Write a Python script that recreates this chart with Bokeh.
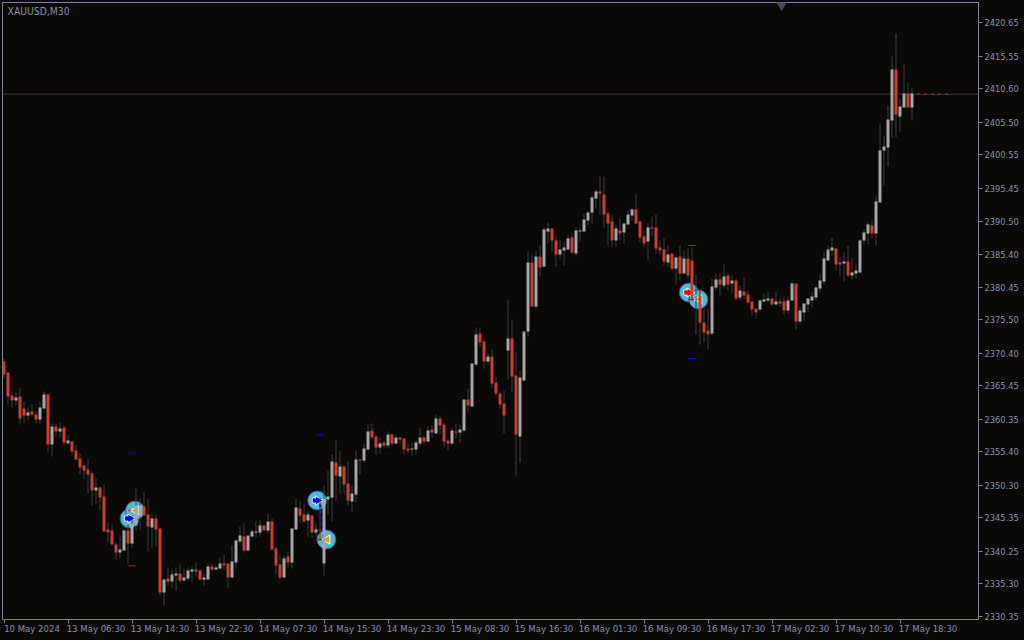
from bokeh.plotting import figure
from bokeh.models import FixedTicker, PrintfTickFormatter, Label, Span, GlobalInlineStyleSheet
from bokeh.embed import file_html
from bokeh.resources import INLINE
import math

directions = ("rrrgrrgrrg" "grgrgrgrrr" "rrrgrrrrrg" "grgggrrgrr" "grggrgggrr" "ggrggrrggg"
              "rggggrgrrr" "grggrrgrgr" "gggrgrrggr" "ggrrgrgrgr" "rrgggrgrgr" "rrgrggrggr"
              "rgrrrrgrrg" "ggrgrggrrg" "ggrggggggr" "rrrgrgggrr" "rgrrrrgrgr" "grrgrrrggr"
              "grgrgrrrrg" "ggrgrrggrg" "ggggggggrr" "grgggggrgg" "gggrggrg")

highs = [
2369.59,2367.46,2364.42,2364.42,2365.03,2363.05,2362.14,2362.60,2361.68,2363.05,
2364.57,2364.12,2359.71,2359.71,2359.86,2359.40,2358.03,2357.12,2356.51,2355.14,
2353.32,2354.38,2352.41,2351.34,2350.12,2350.43,2344.65,2344.34,2341.61,2342.67,
2343.58,2344.34,2345.71,2349.82,2348.30,2349.36,2348.30,2346.02,2345.87,2343.74,
2335.98,2337.80,2337.65,2337.80,2338.26,2337.65,2337.80,2337.96,2338.56,2337.50,
2336.89,2338.41,2338.41,2338.26,2339.33,2339.78,2338.41,2341.15,2342.06,2344.04,
2344.49,2342.67,2343.58,2344.80,2344.95,2344.19,2346.01,2345.25,2340.99,2339.78,
2339.78,2340.23,2343.73,2348.29,2347.84,2347.53,2346.32,2345.71,2344.49,2348.45,
2350.27,2352.55,2354.99,2357.12,2355.60,2353.47,2353.92,2350.27,2355.60,2354.23,
2356.66,2359.55,2359.70,2358.03,2357.57,2357.12,2358.49,2358.18,2358.03,2357.57,
2357.42,2356.66,2356.81,2357.12,2359.09,2357.88,2359.25,2359.40,2361.07,2360.92,
2359.85,2357.27,2359.09,2359.70,2359.55,2363.35,2365.02,2368.98,2374.30,2374.30,
2372.63,2370.35,2370.95,2366.85,2364.57,2364.72,2378.56,2375.52,2370.50,2367.76,
2373.69,2385.86,2385.40,2386.01,2386.77,2389.51,2390.27,2389.36,2388.14,2387.53,
2387.38,2388.45,2388.60,2389.51,2389.51,2391.64,2391.94,2394.38,2395.29,2397.27,
2397.27,2391.94,2391.49,2389.81,2390.88,2390.12,2392.25,2392.55,2394.68,2390.58,
2389.05,2390.27,2391.18,2391.49,2387.53,2387.84,2386.77,2385.56,2385.25,2386.77,
2386.02,2386.32,2386.47,2382.36,2380.24,2377.19,2377.19,2381.76,2382.52,2382.52,
2383.89,2382.52,2382.21,2381.76,2380.69,2381.91,2379.93,2378.26,2377.19,2378.56,
2379.47,2379.78,2378.71,2379.78,2378.71,2379.02,2379.02,2381.30,2380.99,2377.35,
2377.95,2378.71,2379.63,2380.69,2382.52,2385.71,2386.78,2387.99,2386.32,2384.95,
2385.71,2386.78,2384.80,2384.04,2387.69,2389.21,2390.27,2390.58,2394.23,2405.33,
2403.51,2408.07,2415.67,2419.02,2409.13,2414.31,2411.57,2410.81]

body_tops = [
2369.14,2367.46,2363.97,2363.66,2363.81,2361.99,2361.38,2361.53,2361.08,2362.14,
2364.12,2364.12,2359.25,2359.25,2358.95,2359.10,2357.12,2356.97,2355.60,2354.38,
2353.32,2352.71,2352.10,2349.97,2349.97,2348.60,2343.58,2343.43,2341.30,2340.54,
2343.43,2343.43,2344.50,2347.23,2347.23,2347.08,2345.87,2345.26,2345.26,2343.74,
2335.98,2336.13,2336.74,2336.89,2336.89,2336.28,2337.35,2337.50,2337.50,2337.35,
2336.28,2337.96,2337.96,2337.81,2338.41,2338.41,2338.41,2338.72,2341.91,2342.67,
2342.51,2342.67,2343.28,2343.28,2344.19,2344.19,2344.80,2344.80,2340.69,2338.26,
2339.17,2339.47,2343.73,2346.93,2346.77,2345.86,2345.86,2345.71,2343.58,2343.53,
2348.29,2348.60,2353.92,2353.77,2353.16,2353.16,2350.58,2349.05,2354.23,2354.23,
2355.90,2358.49,2358.64,2357.72,2356.66,2356.81,2358.03,2358.03,2357.57,2357.57,
2357.42,2355.90,2355.90,2356.81,2357.57,2357.57,2358.64,2358.79,2360.46,2360.46,
2359.55,2357.11,2358.63,2358.48,2358.79,2363.35,2363.35,2368.82,2373.24,2373.39,
2372.17,2369.89,2369.89,2365.93,2364.26,2362.74,2372.63,2372.63,2367.00,2366.70,
2373.69,2384.19,2384.19,2385.10,2385.10,2389.21,2389.36,2389.36,2387.53,2386.16,
2386.47,2387.84,2387.99,2389.05,2389.05,2390.73,2391.79,2394.07,2394.99,2394.99,
2394.53,2391.64,2390.42,2389.36,2389.05,2390.12,2391.49,2392.25,2392.25,2390.42,
2388.14,2389.51,2389.51,2389.51,2386.47,2386.16,2385.40,2385.56,2384.95,2385.10,
2384.80,2384.80,2384.49,2379.32,2379.17,2375.06,2373.85,2380.54,2381.60,2381.60,
2382.06,2382.21,2381.45,2381.45,2379.93,2379.78,2379.32,2378.26,2377.19,2378.41,
2378.56,2378.71,2378.71,2378.26,2378.26,2378.26,2378.41,2380.99,2380.99,2376.89,
2377.95,2378.71,2379.02,2380.39,2381.45,2384.80,2386.17,2386.47,2386.32,2384.19,
2384.34,2384.34,2382.67,2382.97,2387.54,2388.75,2389.97,2389.82,2393.47,2401.22,
2401.83,2405.94,2413.55,2413.55,2407.92,2409.89,2409.89,2409.89]

body_bottoms = [
2367.16,2363.81,2363.21,2363.21,2360.47,2360.92,2360.92,2361.08,2360.32,2360.32,
2361.99,2356.51,2356.51,2358.49,2358.49,2356.82,2356.66,2355.45,2354.23,2353.01,
2352.56,2351.95,2349.52,2349.52,2348.45,2343.28,2343.13,2341.30,2340.09,2340.09,
2340.39,2341.45,2341.45,2344.19,2345.56,2345.71,2344.04,2343.89,2343.58,2334.00,
2334.00,2335.67,2335.67,2336.59,2335.83,2335.83,2336.13,2337.20,2337.20,2335.98,
2335.98,2335.98,2337.50,2337.50,2337.65,2338.11,2336.28,2336.28,2338.56,2341.75,
2340.39,2340.39,2342.51,2343.12,2343.12,2343.43,2343.43,2340.54,2338.10,2336.28,
2336.28,2338.56,2338.56,2343.58,2345.71,2344.80,2344.95,2343.12,2343.12,2343.43,
2338.41,2348.14,2348.45,2351.79,2351.64,2350.42,2347.99,2347.84,2348.90,2354.07,
2354.07,2355.75,2357.57,2356.05,2356.05,2356.36,2356.36,2356.66,2356.66,2357.27,
2355.75,2355.60,2355.75,2355.75,2356.66,2356.96,2356.96,2358.33,2358.18,2359.40,
2356.96,2356.66,2356.66,2358.33,2358.33,2358.63,2362.44,2362.28,2368.67,2372.02,
2369.13,2369.13,2365.78,2364.26,2362.59,2360.92,2370.80,2366.85,2358.03,2357.72,
2366.24,2373.69,2377.49,2377.49,2383.43,2383.58,2388.90,2387.53,2385.40,2385.40,
2386.01,2386.16,2385.71,2385.56,2388.90,2388.90,2390.58,2391.79,2393.92,2394.68,
2391.49,2390.12,2387.53,2387.53,2388.60,2388.75,2389.97,2391.34,2390.12,2387.99,
2387.08,2387.38,2389.36,2386.32,2386.01,2384.34,2384.19,2383.27,2383.27,2382.51,
2382.52,2382.21,2379.17,2379.02,2375.06,2373.54,2373.24,2373.39,2380.39,2380.84,
2380.69,2380.84,2380.99,2378.71,2378.87,2379.17,2378.11,2377.04,2376.59,2377.04,
2378.26,2378.41,2377.80,2377.80,2377.95,2376.89,2376.89,2378.41,2375.22,2375.22,
2376.59,2377.80,2378.41,2378.87,2380.24,2381.30,2384.49,2386.02,2383.89,2383.89,
2384.04,2382.21,2382.21,2382.52,2382.67,2387.54,2388.60,2388.60,2388.60,2393.32,
2401.22,2401.68,2405.79,2406.70,2406.40,2407.77,2407.77,2407.77]

lows = [
2366.55,2362.60,2362.19,2362.44,2359.55,2359.86,2360.16,2360.77,2359.71,2359.71,
2361.99,2355.30,2354.69,2357.58,2357.58,2356.21,2356.66,2354.84,2354.23,2351.95,
2351.19,2349.06,2347.23,2347.54,2346.47,2343.28,2341.61,2341.30,2339.02,2339.17,
2340.39,2338.41,2340.85,2343.43,2343.58,2345.71,2340.24,2340.69,2341.00,2333.55,
2332.02,2335.07,2334.61,2334.31,2335.37,2335.83,2335.83,2335.67,2336.43,2335.83,
2335.07,2335.98,2337.35,2337.35,2337.50,2337.50,2334.76,2336.28,2337.65,2341.30,
2340.08,2340.23,2342.36,2342.36,2342.51,2343.43,2342.97,2340.54,2336.74,2335.97,
2336.28,2337.80,2337.65,2343.58,2344.64,2344.80,2342.51,2342.36,2342.36,2341.91,
2336.58,2345.86,2344.80,2347.99,2348.90,2349.05,2347.23,2346.32,2347.69,2351.94,
2353.77,2355.60,2357.27,2354.99,2355.14,2355.90,2355.90,2356.20,2356.51,2356.66,
2354.99,2355.14,2354.83,2354.99,2356.20,2356.51,2356.96,2357.57,2358.18,2358.03,
2356.05,2355.59,2356.35,2357.42,2356.81,2358.33,2361.52,2362.28,2368.37,2371.41,
2368.06,2368.67,2365.17,2363.81,2361.98,2358.18,2366.39,2364.41,2351.79,2353.77,
2366.24,2372.93,2377.49,2377.04,2382.06,2383.43,2387.08,2385.86,2383.58,2384.64,
2383.73,2386.16,2385.40,2385.10,2387.38,2388.75,2389.81,2390.12,2392.40,2391.49,
2389.51,2386.77,2386.62,2386.62,2387.69,2387.08,2389.97,2390.58,2390.12,2387.23,
2386.47,2384.49,2388.14,2385.56,2385.40,2383.73,2383.58,2383.12,2380.84,2381.45,
2382.36,2381.60,2378.41,2373.24,2371.72,2372.02,2370.96,2373.09,2379.93,2379.17,
2380.24,2379.93,2379.63,2378.41,2378.41,2378.56,2377.95,2376.13,2375.67,2376.74,
2378.11,2378.26,2377.65,2377.80,2377.50,2376.28,2376.43,2378.41,2374.00,2374.76,
2375.37,2376.59,2377.35,2378.41,2379.78,2380.84,2384.49,2385.25,2382.97,2382.06,
2381.30,2382.06,2381.60,2381.76,2382.67,2386.93,2386.93,2387.84,2386.78,2393.32,
2395.90,2398.79,2403.20,2403.20,2404.11,2407.77,2407.77,2405.79]

price_ticks = [2420.65,2415.55,2410.60,2405.50,2400.55,2395.45,2390.50,2385.40,2380.45,2375.50,
               2370.40,2365.45,2360.35,2355.40,2350.30,2345.35,2340.25,2335.30,2330.35]
date_labels = ["10 May 2024","13 May 06:30","13 May 14:30","13 May 22:30","14 May 07:30",
               "14 May 15:30","14 May 23:30","15 May 08:30","15 May 16:30","16 May 01:30",
               "16 May 09:30","16 May 17:30","17 May 02:30","17 May 10:30","17 May 18:30"]
last_price = 2409.80

circle_x = [31.4, 32.75, 78.3, 80.6, 171.2, 173.6]
circle_y = [2345.26, 2346.47, 2348.00, 2342.06, 2379.63, 2378.57]
buy_idx = [0, 2]; sell_idx = [1, 3, 5]; red_buy_idx = [4]
stop_x = [31.1, 31.1, 78.1, 171.1, 171.1]
stop_y = [2355.22, 2338.06, 2357.99, 2386.78, 2369.59]
stop_colors = ["#0000ff", "#ff0000", "#0000ff", "#ff0000", "#0000ff"]

BG = "#0b0908"; FRAME = "#7e8296"; TEXT = "#8390a8"; RED = "#c5412f"; GREY = "#a6a6a6"; WICK = "#3c3c3c"
FONT = "DejaVu Sans Condensed"

L, T, R, B = 2, 2, 978, 619
def px2price(y): return 2424.04 - 0.15209 * y
n = len(highs)
xs = list(range(n))
p = figure(width=1024, height=640, output_backend="svg", toolbar_location=None,
           x_range=((L - 3.5) / 4, (R - 3.5) / 4), y_range=(px2price(B), px2price(T)),
           y_axis_location="right", background_fill_color=BG, border_fill_color=BG,
           min_border_left=L, min_border_top=T, min_border_right=1024 - R, min_border_bottom=640 - B,
           outline_line_color=FRAME, outline_line_width=1)
p.stylesheets = [GlobalInlineStyleSheet(css="html,body{margin:0;background:%s;overflow:hidden}" % BG)]
p.grid.visible = False

ax = p.yaxis[0]
ax.ticker = FixedTicker(ticks=price_ticks)
ax.formatter = PrintfTickFormatter(format="%.2f")
ax.axis_line_color = FRAME; ax.major_tick_line_color = FRAME
ax.major_tick_in = 0; ax.major_tick_out = 4; ax.minor_tick_line_color = None
ax.major_label_standoff = 2
ax.major_label_text_color = TEXT; ax.major_label_text_font = FONT; ax.major_label_text_font_size = "9.2px"

bx = p.xaxis[0]
tick_bars = [16 * k for k in range(len(date_labels))]
label_bars = [t + 7 for t in tick_bars]
bx.ticker = FixedTicker(ticks=label_bars, minor_ticks=tick_bars)
bx.major_label_overrides = dict(zip(label_bars, date_labels))
bx.axis_line_color = FRAME; bx.major_tick_line_color = None
bx.major_tick_in = 0; bx.major_tick_out = 0
bx.minor_tick_line_color = FRAME; bx.minor_tick_in = 0; bx.minor_tick_out = 4
bx.major_label_standoff = -1
bx.major_label_text_color = TEXT; bx.major_label_text_font = FONT; bx.major_label_text_font_size = "9.5px"

p.add_layout(Span(location=last_price, dimension="width", line_color="#3a3a40", line_width=1, level="underlay"))
p.line([226.5, 236], [last_price, last_price], line_color="#b03030", line_dash="3 4", line_width=1)

p.scatter(circle_x, circle_y, size=19, marker="circle", fill_color="#52bad0", line_color="#34508c", line_width=1)
p.segment([78.1, 31.1, 171.1], [circle_y[3], circle_y[1], circle_y[5]],
          [79.9, 32.9, 172.9], [circle_y[3], circle_y[1], circle_y[5]], line_color="#ff0000", line_width=1.5)
p.line([78.9, 79.9], [2348.3, 2342.4], line_color="#0000ff", line_dash="3 3", line_width=2)

def marks(idx, color, angle, dx, stem):
    xx = [circle_x[i] + dx for i in idx]; yy = [circle_y[i] for i in idx]
    if stem:
        p.scatter([x - 0.8 for x in xx], yy, size=5, marker="square", fill_color=color, line_color="white", line_width=1)
    p.scatter(xx, yy, size=9, marker="triangle", angle=angle, fill_color=color, line_color="white", line_width=1)
    if stem:
        p.scatter([x - 0.8 for x in xx], yy, size=4, marker="square", fill_color=color, line_color=None)

marks(buy_idx, "#0000ff", -math.pi / 2, 0.2, True)
marks(red_buy_idx, "#ff0000", -math.pi / 2, 0.2, True)
marks(sell_idx, "#e89a10", math.pi / 2, 0.2, False)

p.segment(xs, highs, xs, lows, line_color=WICK, line_width=1)
colors = [GREY if d == "g" else RED for d in directions]
p.vbar(x=xs, top=body_tops, bottom=body_bottoms, width=0.75, fill_color=colors, line_color=None)
p.segment(stop_x, stop_y, [x + 1.8 for x in stop_x], stop_y, line_color=stop_colors, line_width=1)

p.scatter([194.4], [px2price(4.5)], marker="inverted_triangle", size=11, fill_color="#3c4670", line_color=None)

p.add_layout(Label(x=0.9, y=px2price(10.5), text="XAUUSD,M30", text_color="#8a8f9f", text_font=FONT,
                   text_font_size="10.3px", text_baseline="middle"))
p.add_layout(Label(x=982, y=94, x_units="canvas", y_units="canvas", level="overlay", text="2409.80",
                   text_color="#101010", text_font=FONT, text_font_size="9.2px", text_baseline="middle",
                   background_fill_color="#8a8fa0", padding=2))

open("out.html", "w").write(file_html(p, INLINE))
